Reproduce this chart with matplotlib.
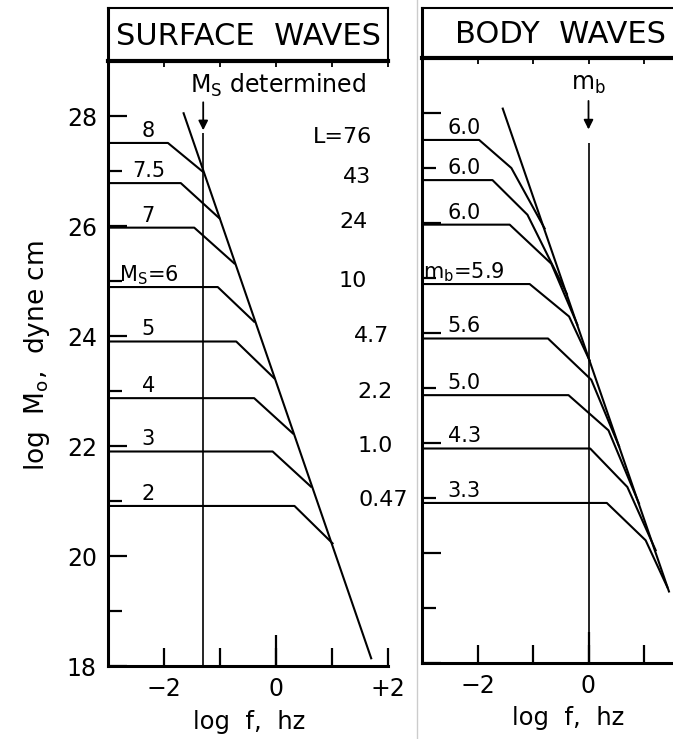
import matplotlib
matplotlib.use('Agg')
import matplotlib.pyplot as plt
from matplotlib.lines import Line2D

# log Mo (dyne cm) of the flat part, same 8 sources in both panels
log_mo = [27.51, 26.78, 25.97, 24.89, 23.90, 22.87, 21.90, 20.91]
ms_labels = ['8', '7.5', '7', r'M$_\mathregular{S}$=6', '5', '4', '3', '2']
mb_labels = ['6.0', '6.0', '6.0', r'm$_\mathregular{b}$=5.9', '5.6', '5.0', '4.3', '3.3']
fault_len = ['L=76', '43', '24', '10', '4.7', '2.2', '1.0', '0.47']

# surface waves: corner, then end of the f^-1 part on the f^-3 line
surf_corner = [-1.93, -1.70, -1.46, -1.04, -0.71, -0.39, -0.06, 0.33]
surf_join_f = [-1.31, -1.01, -0.745, -0.39, -0.03, 0.30, 0.625, 1.01]
surf_join_m = [26.99, 26.14, 25.32, 24.26, 23.23, 22.23, 21.26, 20.23]
surf_env_f = [-1.65, 1.70]
surf_env_m = [28.05, 18.14]

# body waves: corner, knee, then where it meets the f^-3 line
body_corner = [-1.97, -1.73, -1.42, -1.06, -0.73, -0.36, 0.03, 0.33]
body_knee_f = [-1.39, -1.10, -0.67, -0.35, 0.05, 0.36, 0.70, 1.03]
body_knee_m = [27.00, 26.15, 25.26, 24.30, 23.15, 22.23, 21.20, 20.23]
body_join_f = [-0.79, -0.39, -0.20, 0.02, 0.55, 0.91, 1.21, 1.42]
body_join_m = [25.90, 24.71, 24.15, 23.50, 21.94, 20.90, 20.05, 19.38]
body_env_f = [-1.545, 1.45]
body_env_m = [28.08, 19.30]

ms_freq = -1.3   # 20 s period
mb_freq = 0.0    # 1 s period

xticks = [-2, -1, 0, 1, 2]
surf_xlabels = ['\u22122', '', '0', '', '+2']
body_xlabels = ['\u22122', '', '0', '', '']   # +2 is off the page

narrow = ['Liberation Sans Narrow', 'DejaVu Sans']

W, H = 673, 739
fig = plt.figure(figsize=(W / 100, H / 100), dpi=100)


def px_axes(x0, y0, x1, y1):
    return fig.add_axes([x0 / W, 1 - y1 / H, (x1 - x0) / W, (y1 - y0) / H])


def setup(ax, hdr, title, xlabels, ylabels):
    ax.set_xlim(-3, 2)
    ax.set_ylim(18, 29)
    ax.spines['top'].set_visible(False)
    ax.spines['right'].set_visible(False)
    ax.spines['left'].set_linewidth(2.2)
    ax.spines['bottom'].set_linewidth(2.2)
    ax.xaxis.remove_overlapping_locs = False
    ax.set_xticks(xticks)
    ax.set_xticklabels(xlabels, fontsize=17)
    ax.set_xticks([0], minor=True)
    ax.set_yticks(range(18, 29, 2))
    ax.set_yticks(range(19, 29, 2), minor=True)
    if ylabels:
        ax.set_yticklabels([str(v) for v in range(18, 29, 2)], fontsize=17)
    else:
        ax.set_yticklabels([])
    ax.tick_params(axis='x', which='major', direction='in', length=13, width=1.6, pad=8)
    ax.tick_params(axis='x', which='minor', direction='in', length=22, width=1.6)
    ax.tick_params(axis='y', which='major', direction='in', length=14, width=1.6, pad=8)
    ax.tick_params(axis='y', which='minor', direction='in', length=10, width=1.6)

    hdr.set_xlim(-3, 2)
    hdr.set_xticks(xticks)
    hdr.set_yticks([])
    hdr.tick_params(axis='x', direction='out', length=4, width=1.3, labelbottom=False)
    hdr.spines['bottom'].set_linewidth(3)
    hdr.spines['left'].set_linewidth(2.2)
    hdr.spines['top'].set_linewidth(1.5)
    hdr.spines['right'].set_linewidth(1.5)
    hdr.text(0.5, 0.47, title, transform=hdr.transAxes, ha='center', va='center',
             fontsize=22)


# surface waves
ax1 = px_axes(108, 61, 388, 666)
hd1 = px_axes(108, 8, 388, 61)
setup(ax1, hd1, 'SURFACE  WAVES', surf_xlabels, True)

for m, fc, jf, jm in zip(log_mo, surf_corner, surf_join_f, surf_join_m):
    ax1.plot([-3, fc, jf], [m, m, jm], color='k', lw=1.5)
ax1.plot(surf_env_f, surf_env_m, color='k', lw=1.5)

for m, lab in zip(log_mo, ms_labels):
    ax1.text(-2.28, m + 0.11, lab, ha='center', va='baseline', fontsize=15,
             family=narrow)

len_x = [1.72, 1.70, 1.63, 1.63, 2.03, 2.09, 2.09, 2.35]
for m, lab, x in zip(log_mo, fault_len, len_x):
    ax1.text(x, m, lab, ha='right', va='baseline', fontsize=16)

ax1.annotate('', xy=(ms_freq, 27.69), xytext=(ms_freq, 28.3),
             arrowprops=dict(arrowstyle='-|>', color='k', lw=1.3, mutation_scale=14))
ax1.vlines(ms_freq, 18, 27.69, color='k', lw=1.2)
ax1.text(-1.53, 28.42, r'M$_\mathregular{S}$ determined', ha='left', va='baseline',
         fontsize=17)

# body waves
ax2 = px_axes(422, 58, 699.5, 663)
hd2 = px_axes(422, 8, 699.5, 58)
setup(ax2, hd2, 'BODY  WAVES', body_xlabels, False)

for m, fc, kf, km, jf, jm in zip(log_mo, body_corner, body_knee_f, body_knee_m,
                                 body_join_f, body_join_m):
    ax2.plot([-3, fc, kf, jf], [m, m, km, jm], color='k', lw=1.5)
ax2.plot(body_env_f, body_env_m, color='k', lw=1.5)

for m, lab in zip(log_mo, mb_labels):
    ax2.text(-2.24, m + 0.11, lab, ha='center', va='baseline', fontsize=15,
             family=narrow)

ax2.annotate('', xy=(mb_freq, 27.65), xytext=(mb_freq, 28.27),
             arrowprops=dict(arrowstyle='-|>', color='k', lw=1.3, mutation_scale=14))
ax2.vlines(mb_freq, 18, 27.45, color='k', lw=1.2)
ax2.text(mb_freq, 28.42, r'm$_\mathregular{b}$', ha='center', va='baseline', fontsize=17)

# axis titles
fig.text(37 / W, 1 - 356 / H, r'log  M$_\mathregular{o}$,  dyne cm', rotation=90,
         ha='center', va='center', fontsize=19)
fig.text(249 / W, 1 - 722 / H, 'log  f,  hz', ha='center', va='center', fontsize=17.5)
fig.text(568 / W, 1 - 718 / H, 'log  f,  hz', ha='center', va='center', fontsize=17.5)

# faint gutter between the two scanned panels
fig.add_artist(Line2D([417 / W, 417 / W], [0, 1], color='#cccccc', lw=1))

fig.savefig('out.png', dpi=100)
